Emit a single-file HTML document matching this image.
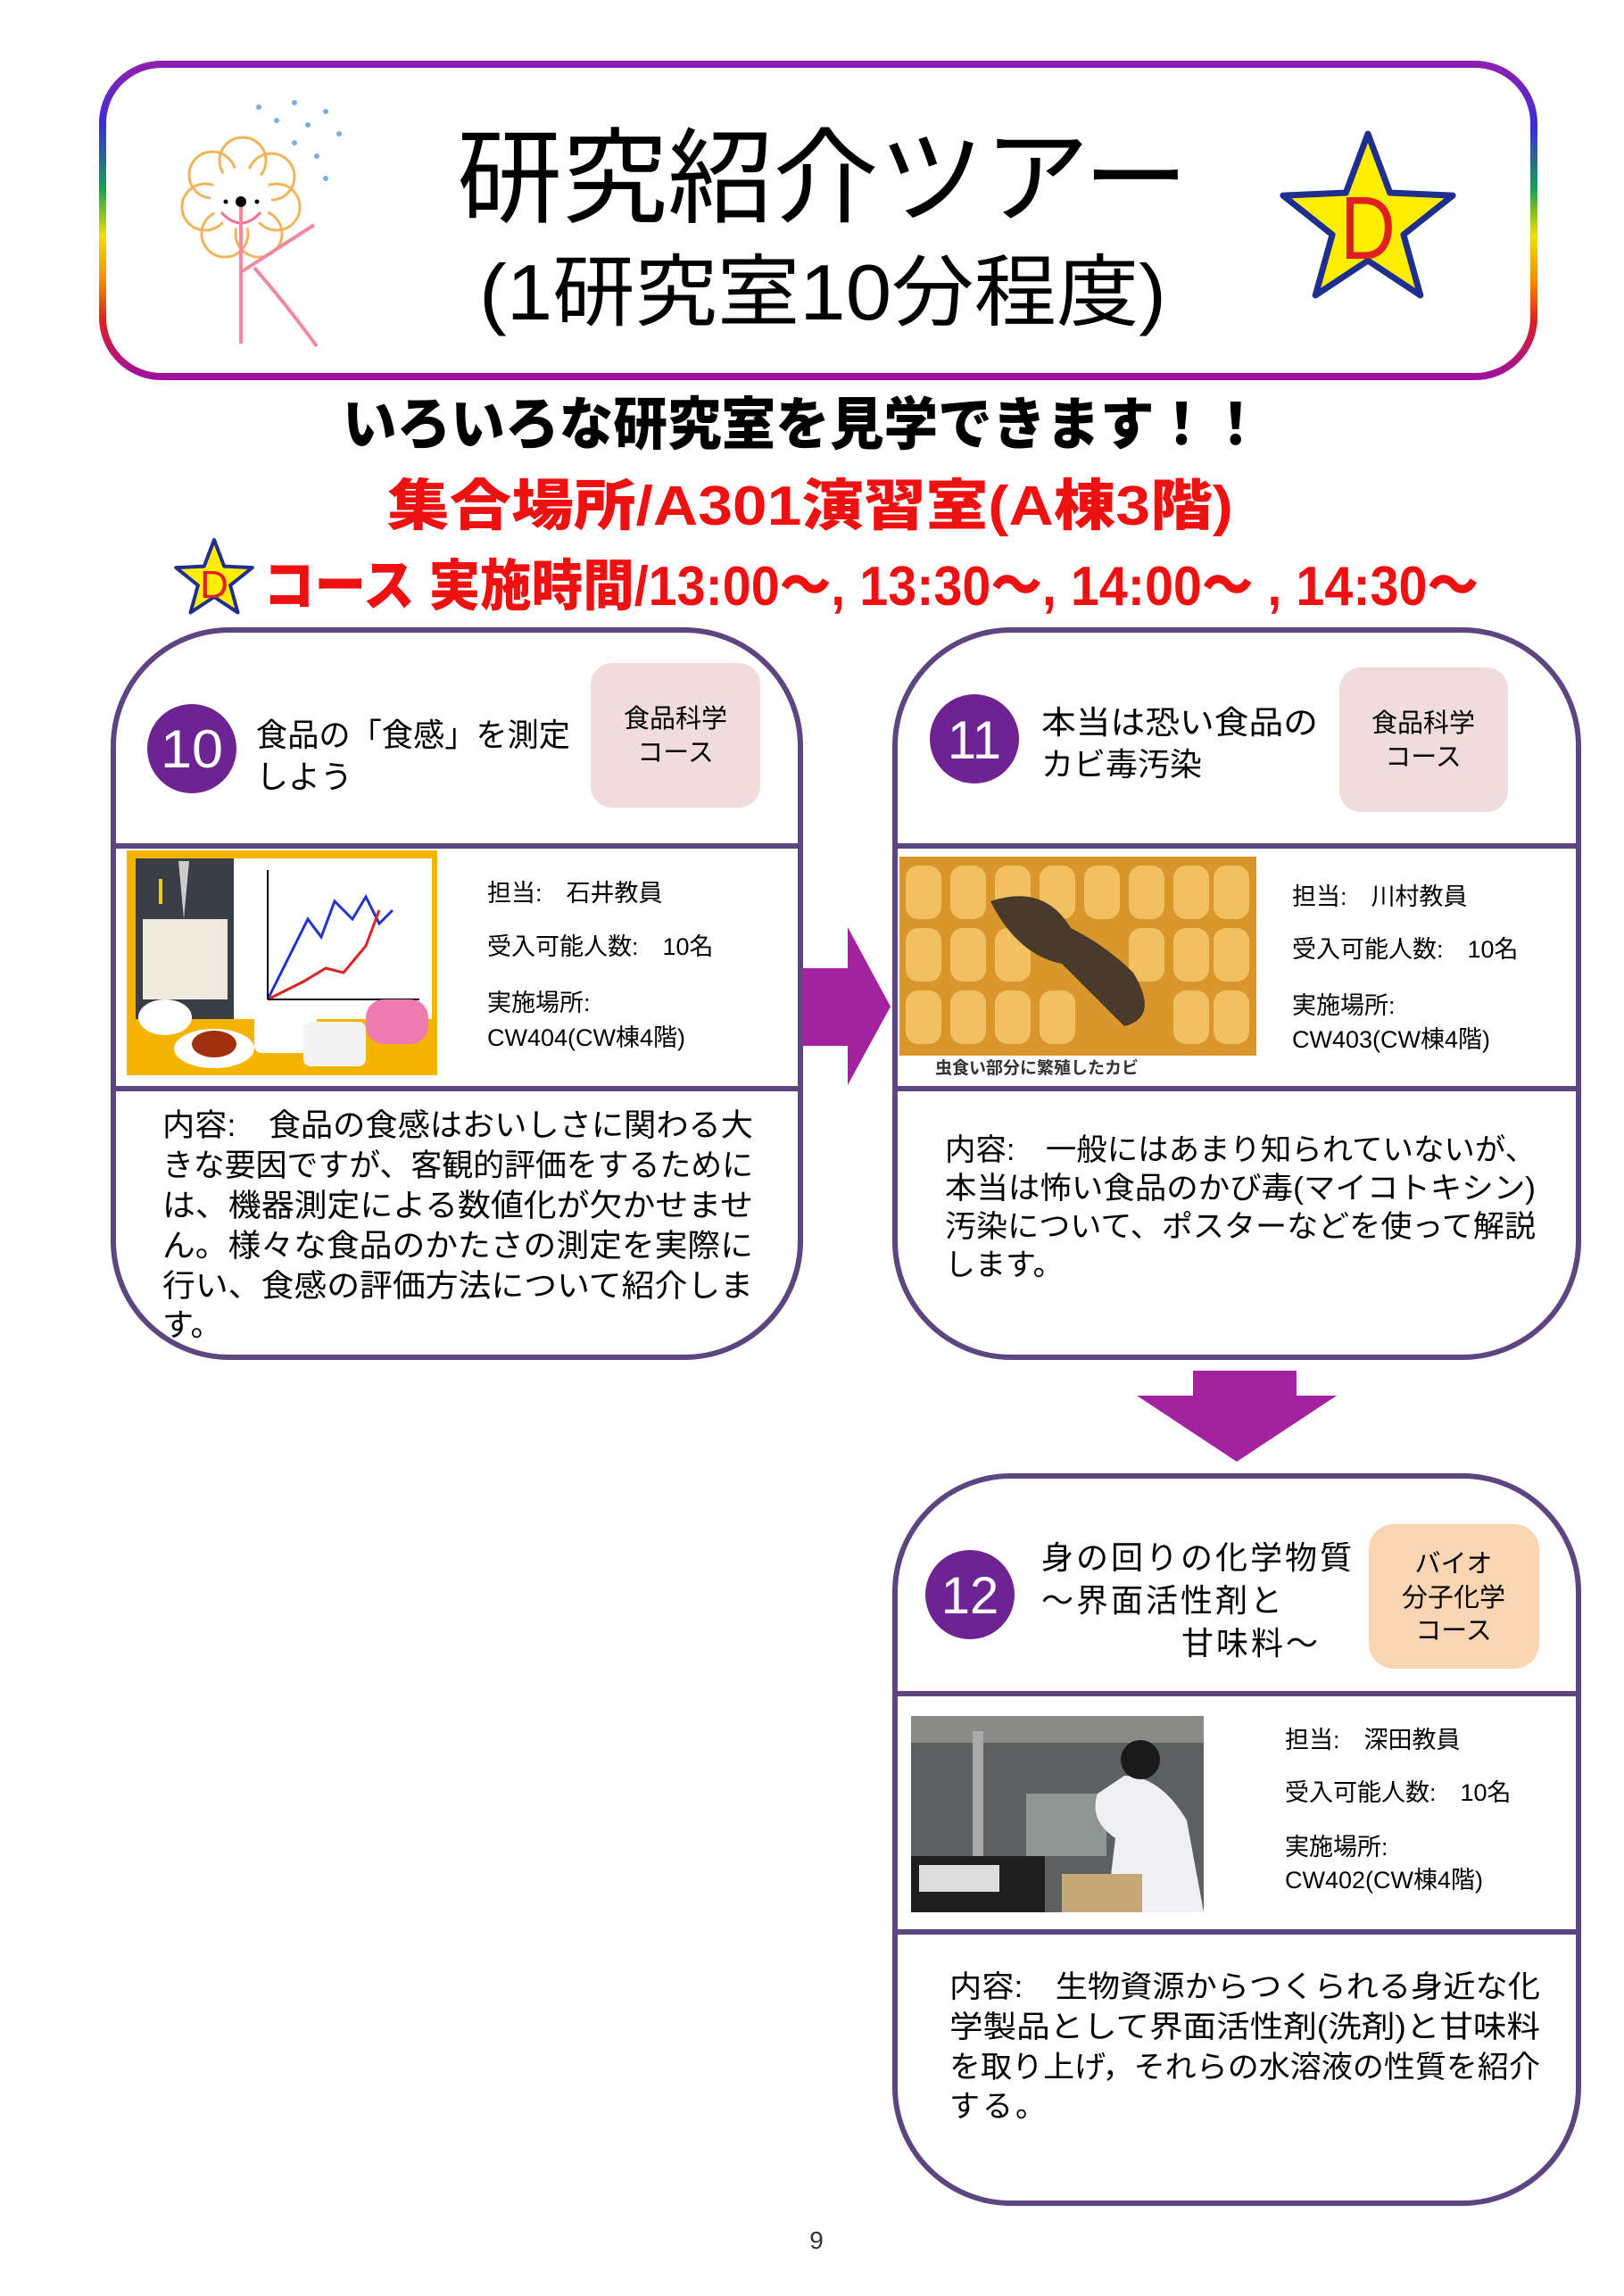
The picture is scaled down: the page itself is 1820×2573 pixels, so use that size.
<!DOCTYPE html>
<html><head><meta charset="utf-8"><style>
html,body{margin:0;padding:0;background:#fff;}
svg{display:block;}
text{font-family:"Liberation Sans","Noto Sans CJK JP",sans-serif;}
</style></head><body>
<svg width="1820" height="2573" viewBox="0 0 1820 2573" xmlns="http://www.w3.org/2000/svg">
<defs>
<linearGradient id="rb" x1="0" y1="0" x2="0" y2="1">
<stop offset="0" stop-color="#8e1fb0"/>
<stop offset="0.2" stop-color="#3a2fd6"/>
<stop offset="0.4" stop-color="#1aa050"/>
<stop offset="0.55" stop-color="#f0e000"/>
<stop offset="0.7" stop-color="#f08a00"/>
<stop offset="0.82" stop-color="#e02020"/>
<stop offset="1" stop-color="#a010a0"/>
</linearGradient>
</defs>

<!-- header box -->
<rect x="115" y="72" width="1604" height="350" rx="66" fill="#fff" stroke="url(#rb)" stroke-width="8"/>
<!-- flower logo -->
<g fill="none" stroke="#f2b45a" stroke-width="3">
<circle cx="238" cy="196" r="26"/><circle cx="272" cy="180" r="26"/><circle cx="304" cy="198" r="26"/>
<circle cx="310" cy="232" r="26"/><circle cx="290" cy="262" r="26"/><circle cx="252" cy="262" r="26"/><circle cx="230" cy="232" r="26"/>
</g>
<circle cx="270" cy="222" r="34" fill="#fff"/>
<circle cx="270" cy="226" r="6" fill="#000"/><circle cx="253" cy="226" r="2.5" fill="#000"/><circle cx="288" cy="226" r="2.5" fill="#000"/>
<path d="M248 238 Q270 262 292 238" fill="none" stroke="#f07090" stroke-width="3"/>
<g stroke="#f08aa0" stroke-width="4" fill="none">
<line x1="270" y1="232" x2="270" y2="385"/>
<path d="M270 305 L352 252"/>
<path d="M285 300 Q320 340 355 388"/>
</g>
<g fill="#7ab0e0"><circle cx="290" cy="120" r="3"/><circle cx="310" cy="135" r="3"/><circle cx="330" cy="115" r="3"/><circle cx="345" cy="140" r="3"/><circle cx="365" cy="125" r="3"/><circle cx="330" cy="160" r="3"/><circle cx="355" cy="175" r="3"/><circle cx="380" cy="150" r="3"/><circle cx="365" cy="200" r="3"/></g>
<!-- title -->
<text x="922" y="240" font-size="116" text-anchor="middle" textLength="820" lengthAdjust="spacingAndGlyphs">研究紹介ツアー</text>
<text x="922" y="358" font-size="88" text-anchor="middle" textLength="770" lengthAdjust="spacingAndGlyphs">(1研究室10分程度)</text>
<!-- big star -->
<polygon points="1533,150 1557.7,216 1628.1,219.1 1572.9,263 1591.8,330.9 1533,292 1474.2,330.9 1493.1,263 1437.9,219.1 1508.3,216" fill="#ffee00" stroke="#1f2f8f" stroke-width="7" stroke-linejoin="round"/>
<text x="1533" y="290" font-size="100" fill="#e02020" text-anchor="middle" textLength="62" lengthAdjust="spacingAndGlyphs">D</text>

<!-- headlines -->
<text x="384" y="498" font-size="64" font-weight="900" textLength="1031" lengthAdjust="spacingAndGlyphs">いろいろな研究室を見学できます！！</text>
<text x="434" y="588" font-size="62" font-weight="900" fill="#ee1111" textLength="948" lengthAdjust="spacingAndGlyphs">集合場所/A301演習室(A棟3階)</text>
<polygon points="240,605 251.2,634.6 282.8,636.1 258.1,655.9 266.5,686.4 240,669 213.5,686.4 221.9,655.9 197.2,636.1 228.8,634.6" fill="#ffee00" stroke="#1f2f8f" stroke-width="4" stroke-linejoin="round"/>
<text x="240" y="670" font-size="44" fill="#e02020" text-anchor="middle">D</text>
<text x="295" y="678" font-size="62" font-weight="900" fill="#ee1111" textLength="1362" lengthAdjust="spacingAndGlyphs">コース 実施時間/13:00～, 13:30～, 14:00～ , 14:30～</text>

<!-- card 10 -->
<rect x="127" y="706" width="770" height="815" rx="130" fill="#fff" stroke="#5c4580" stroke-width="6"/>
<line x1="127" y1="948" x2="897" y2="948" stroke="#5c4580" stroke-width="6"/>
<line x1="127" y1="1220" x2="897" y2="1220" stroke="#5c4580" stroke-width="6"/>
<circle cx="215" cy="839" r="50" fill="#6e2392"/>
<text x="215" y="860" font-size="60" fill="#fff" text-anchor="middle" textLength="70" lengthAdjust="spacingAndGlyphs">10</text>
<text x="287" y="836" font-size="36" textLength="352" lengthAdjust="spacingAndGlyphs">食品の「食感」を測定</text>
<text x="287" y="883" font-size="36">しよう</text>
<rect x="662" y="743" width="190" height="162" rx="24" fill="#f0dcdc"/>
<text x="757" y="815" font-size="29" text-anchor="middle">食品科学</text>
<text x="757" y="853" font-size="29" text-anchor="middle">コース</text>
<!-- image 10 -->
<rect x="142" y="953" width="348" height="252" fill="#f5b400"/>
<rect x="152" y="962" width="110" height="180" fill="#3a3e48"/>
<rect x="160" y="1030" width="95" height="90" fill="#eee8dd"/>
<polygon points="200,965 212,965 206,1030" fill="#ccc"/>
<rect x="178" y="985" width="4" height="28" fill="#f5d000"/>
<rect x="262" y="962" width="222" height="180" fill="#fff"/>
<path d="M300 1120 L330 1060 L345 1030 L360 1050 L375 1010 L395 1030 L410 1005 L425 1035 L440 1020" fill="none" stroke="#2233cc" stroke-width="3"/>
<path d="M300 1120 L340 1100 L365 1085 L385 1090 L410 1060 L425 1020" fill="none" stroke="#dd2222" stroke-width="3"/>
<line x1="300" y1="975" x2="300" y2="1120" stroke="#000" stroke-width="2"/>
<line x1="300" y1="1120" x2="470" y2="1120" stroke="#000" stroke-width="2"/>
<rect x="285" y="1125" width="70" height="55" rx="8" fill="#fff"/>
<rect x="340" y="1145" width="70" height="50" rx="8" fill="#f4f4f4"/>
<rect x="410" y="1120" width="70" height="50" rx="20" fill="#f07ab0"/>
<ellipse cx="240" cy="1175" rx="45" ry="22" fill="#fff"/><ellipse cx="240" cy="1170" rx="25" ry="15" fill="#a03010"/>
<ellipse cx="185" cy="1140" rx="30" ry="20" fill="#fff"/>
<text font-size="27"><tspan x="546" y="1010">担当:　石井教員</tspan><tspan x="546" y="1070">受入可能人数:　10名</tspan><tspan x="546" y="1133">実施場所:</tspan><tspan x="546" y="1172">CW404(CW棟4階)</tspan></text>
<text font-size="35"><tspan x="182" y="1273" textLength="662" lengthAdjust="spacingAndGlyphs">内容:　食品の食感はおいしさに関わる大</tspan><tspan x="182" y="1318" textLength="662" lengthAdjust="spacingAndGlyphs">きな要因ですが、客観的評価をするために</tspan><tspan x="182" y="1363" textLength="662" lengthAdjust="spacingAndGlyphs">は、機器測定による数値化が欠かせませ</tspan><tspan x="182" y="1408" textLength="662" lengthAdjust="spacingAndGlyphs">ん。様々な食品のかたさの測定を実際に</tspan><tspan x="182" y="1453" textLength="662" lengthAdjust="spacingAndGlyphs">行い、食感の評価方法について紹介しま</tspan><tspan x="182" y="1497">す。</tspan></text>

<!-- right arrow -->
<polygon points="899,1085 950,1085 950,1039 998,1128 950,1216 950,1172 899,1172" fill="#a3229f"/>

<!-- card 11 -->
<rect x="1003" y="706" width="766" height="815" rx="130" fill="#fff" stroke="#5c4580" stroke-width="6"/>
<line x1="1003" y1="948" x2="1769" y2="948" stroke="#5c4580" stroke-width="6"/>
<line x1="1003" y1="1220" x2="1769" y2="1220" stroke="#5c4580" stroke-width="6"/>
<circle cx="1092" cy="828" r="50" fill="#6e2392"/>
<text x="1092" y="850" font-size="60" fill="#fff" text-anchor="middle" textLength="60" lengthAdjust="spacingAndGlyphs">11</text>
<text x="1167" y="822" font-size="36" textLength="310" lengthAdjust="spacingAndGlyphs">本当は恐い食品の</text>
<text x="1167" y="869" font-size="36">カビ毒汚染</text>
<rect x="1501" y="748" width="189" height="162" rx="24" fill="#f0dcdc"/>
<text x="1595" y="820" font-size="29" text-anchor="middle">食品科学</text>
<text x="1595" y="858" font-size="29" text-anchor="middle">コース</text>
<rect x="1008" y="960" width="400" height="223" fill="#d8962c"/>
<g fill="#f2c060">
<rect x="1015" y="970" width="40" height="60" rx="14"/><rect x="1065" y="970" width="40" height="60" rx="14"/><rect x="1115" y="970" width="40" height="60" rx="14"/><rect x="1165" y="970" width="40" height="60" rx="14"/><rect x="1215" y="970" width="40" height="60" rx="14"/><rect x="1265" y="970" width="40" height="60" rx="14"/><rect x="1315" y="970" width="40" height="60" rx="14"/><rect x="1360" y="970" width="40" height="60" rx="14"/>
<rect x="1015" y="1040" width="40" height="60" rx="14"/><rect x="1065" y="1040" width="40" height="60" rx="14"/><rect x="1115" y="1040" width="40" height="60" rx="14"/><rect x="1265" y="1040" width="40" height="60" rx="14"/><rect x="1315" y="1040" width="40" height="60" rx="14"/><rect x="1360" y="1040" width="40" height="60" rx="14"/>
<rect x="1015" y="1110" width="40" height="60" rx="14"/><rect x="1065" y="1110" width="40" height="60" rx="14"/><rect x="1115" y="1110" width="40" height="60" rx="14"/><rect x="1165" y="1110" width="40" height="60" rx="14"/><rect x="1315" y="1110" width="40" height="60" rx="14"/><rect x="1360" y="1110" width="40" height="60" rx="14"/>
</g>
<path d="M1110 1010 Q1170 990 1200 1040 Q1240 1060 1270 1090 Q1300 1140 1260 1150 Q1220 1110 1190 1080 Q1140 1070 1110 1010Z" fill="#4a3a2a"/>
<rect x="1008" y="1183" width="400" height="22" fill="#fff"/>
<text x="1048" y="1203" font-size="19" font-weight="bold" fill="#333">虫食い部分に繁殖したカビ</text>
<text font-size="27"><tspan x="1448" y="1014">担当:　川村教員</tspan><tspan x="1448" y="1073">受入可能人数:　10名</tspan><tspan x="1448" y="1136">実施場所:</tspan><tspan x="1448" y="1174">CW403(CW棟4階)</tspan></text>
<text font-size="34"><tspan x="1059" y="1300" textLength="662" lengthAdjust="spacingAndGlyphs">内容:　一般にはあまり知られていないが、</tspan><tspan x="1059" y="1343" textLength="662" lengthAdjust="spacingAndGlyphs">本当は怖い食品のかび毒(マイコトキシン)</tspan><tspan x="1059" y="1386" textLength="662" lengthAdjust="spacingAndGlyphs">汚染について、ポスターなどを使って解説</tspan><tspan x="1059" y="1429">します。</tspan></text>

<!-- down arrow -->
<polygon points="1337,1536 1453,1536 1453,1564 1498,1564 1386,1638 1274,1564 1337,1564" fill="#a3229f"/>

<!-- card 12 -->
<rect x="1003" y="1654" width="766" height="815" rx="130" fill="#fff" stroke="#5c4580" stroke-width="6"/>
<line x1="1003" y1="1898" x2="1769" y2="1898" stroke="#5c4580" stroke-width="6"/>
<line x1="1003" y1="2165" x2="1769" y2="2165" stroke="#5c4580" stroke-width="6"/>
<circle cx="1087" cy="1787" r="50" fill="#6e2392"/>
<text x="1087" y="1808" font-size="58" fill="#fff" text-anchor="middle">12</text>
<text x="1167" y="1758" font-size="36" letter-spacing="3">身の回りの化学物質</text>
<text x="1167" y="1806" font-size="36" letter-spacing="3">～界面活性剤と</text>
<text x="1324" y="1854" font-size="36" letter-spacing="3">甘味料～</text>
<rect x="1534" y="1708" width="191" height="162" rx="28" fill="#f9d5b4"/>
<text x="1629" y="1762" font-size="29" text-anchor="middle">バイオ</text>
<text x="1629" y="1800" font-size="29" text-anchor="middle">分子化学</text>
<text x="1629" y="1837" font-size="29" text-anchor="middle">コース</text>
<rect x="1021" y="1923" width="328" height="220" fill="#5e5f60"/>
<rect x="1021" y="1923" width="328" height="30" fill="#8a8a88"/>
<rect x="1090" y="1940" width="12" height="160" fill="#aaa"/>
<rect x="1150" y="2010" width="90" height="70" fill="#9aa4a0" opacity="0.8"/>
<rect x="1021" y="2080" width="150" height="63" fill="#1e1e1e"/>
<rect x="1030" y="2090" width="90" height="30" fill="#ddd"/>
<path d="M1260 1990 Q1300 1990 1330 2040 L1349 2143 L1240 2143 L1250 2060 Q1220 2040 1230 2010Z" fill="#f0f0f2"/>
<circle cx="1278" cy="1972" r="22" fill="#1a1a1a"/>
<rect x="1190" y="2100" width="90" height="43" fill="#c9a878"/>
<text font-size="27"><tspan x="1440" y="1959">担当:　深田教員</tspan><tspan x="1440" y="2018">受入可能人数:　10名</tspan><tspan x="1440" y="2079">実施場所:</tspan><tspan x="1440" y="2116">CW402(CW棟4階)</tspan></text>
<text font-size="34"><tspan x="1064" y="2238" textLength="662" lengthAdjust="spacingAndGlyphs">内容:　生物資源からつくられる身近な化</tspan><tspan x="1064" y="2283" textLength="662" lengthAdjust="spacingAndGlyphs">学製品として界面活性剤(洗剤)と甘味料</tspan><tspan x="1064" y="2328" textLength="662" lengthAdjust="spacingAndGlyphs">を取り上げ，それらの水溶液の性質を紹介</tspan><tspan x="1064" y="2372" letter-spacing="3">する。</tspan></text>

<text x="915" y="2520" font-size="28" text-anchor="middle" fill="#333">9</text>
</svg>
</body></html>
